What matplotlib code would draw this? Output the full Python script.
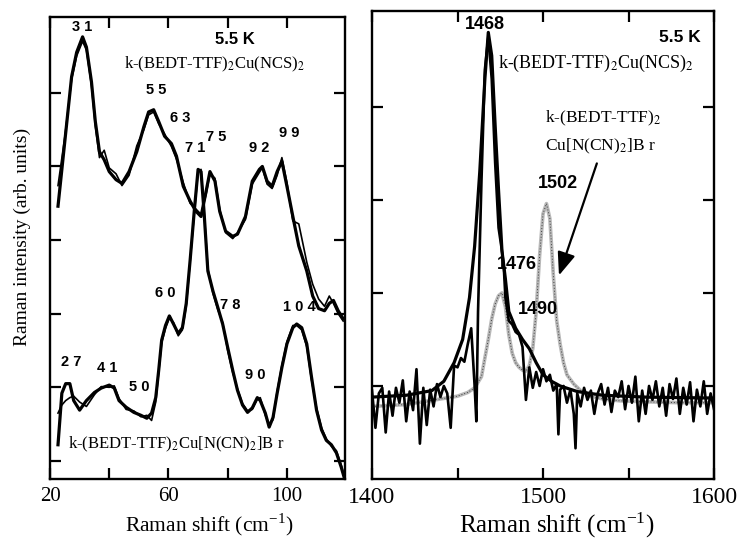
import matplotlib
matplotlib.use("Agg")
import matplotlib.pyplot as plt

plt.rcParams["mathtext.fontset"] = "stix"
SERIF = "Liberation Serif"
SANS = "Liberation Sans"

# ---------------- low-frequency spectra (left panel) ----------------
ncs_low_shift = [22.7, 25, 27.3, 29, 31, 32.3, 34, 35.3, 36.7, 38.3, 40, 42.3, 44.3,
                 46.7, 49.3, 51.7, 53.3, 55, 56.7, 58.7, 61, 62.7, 65, 67.3, 69.3, 71,
                 72.7, 74, 75.7, 77.3, 79.3, 81.7, 83.3, 86, 88.3, 90.7, 91.7, 93.3, 95,
                 96.7, 98.3, 100, 102, 104, 106.7, 108.7, 110.7, 112.7, 114.3, 115.7,
                 117.3, 119]
ncs_low_scan_a = [3.46, 4.34, 5.22, 5.55, 5.76, 5.62, 5.15, 4.61, 4.20, 4.09, 3.93, 3.82,
                  3.77, 3.93, 4.20, 4.54, 4.74, 4.77, 4.61, 4.41, 4.31, 4.14, 3.73, 3.53,
                  3.39, 3.32, 3.66, 3.93, 3.80, 3.39, 3.12, 3.05, 3.08, 3.32, 3.80, 3.96,
                  4.00, 3.80, 3.73, 3.93, 4.07, 3.73, 3.32, 2.92, 2.58, 2.24, 2.07, 2.04,
                  2.14, 2.18, 2.04, 1.93]
ncs_low_scan_b = [3.74, 4.40, 5.18, 5.50, 5.70, 5.58, 5.10, 4.55, 4.12, 4.22, 3.98, 3.90,
                  3.74, 3.88, 4.28, 4.50, 4.70, 4.74, 4.58, 4.44, 4.27, 4.10, 3.78, 3.50,
                  3.42, 3.35, 3.62, 3.90, 3.84, 3.42, 3.10, 3.02, 3.10, 3.28, 3.76, 3.92,
                  3.98, 3.76, 3.70, 3.88, 4.12, 3.78, 3.26, 3.22, 2.70, 2.40, 2.20, 2.10,
                  2.24, 2.14, 2.00, 1.90]

br_low_shift = [22.7, 24, 25.3, 26.7, 28, 30, 32.3, 35, 37.3, 40, 41.7, 43.3, 45.7, 48.3,
                50.7, 52.7, 54.3, 55.7, 56.7, 57.7, 59, 60.3, 61.7, 63.3, 64.7, 66, 67.3,
                68.7, 70, 71, 72, 73.3, 75, 76.7, 78.3, 80, 81.7, 83.3, 85, 86.7, 88.3,
                90, 91, 92.7, 94, 95.3, 96.7, 98.3, 100, 102, 103.3, 105, 106.7, 108.3,
                110, 111.7, 113.3, 115, 116.7, 118.3, 119.3]
br_low_scan_a = [0.22, 0.92, 1.05, 1.05, 0.82, 0.69, 0.82, 0.93, 0.99, 1.03, 0.99, 0.82,
                 0.73, 0.66, 0.62, 0.58, 0.65, 0.86, 1.23, 1.64, 1.84, 1.97, 1.86, 1.73,
                 1.81, 2.14, 2.72, 3.39, 3.96, 3.93, 3.39, 2.58, 2.31, 2.08, 1.86, 1.54,
                 1.23, 0.96, 0.76, 0.66, 0.72, 0.86, 0.82, 0.65, 0.46, 0.59, 0.92, 1.27,
                 1.59, 1.81, 1.86, 1.81, 1.59, 1.14, 0.69, 0.42, 0.28, 0.22, 0.11, -0.08,
                 -0.22]
br_low_scan_b = [0.65, 0.76, 0.82, 0.86, 0.88, 0.80, 0.74, 0.90, 1.01, 1.00, 1.02, 0.85,
                 0.70, 0.68, 0.60, 0.62, 0.55, 0.80, 1.20, 1.60, 1.80, 1.94, 1.88, 1.70,
                 1.78, 2.10, 2.70, 3.35, 3.92, 3.96, 3.42, 2.62, 2.28, 2.05, 1.88, 1.50,
                 1.20, 0.98, 0.78, 0.68, 0.70, 0.84, 0.86, 0.62, 0.50, 0.56, 0.95, 1.30,
                 1.62, 1.84, 1.84, 1.78, 1.55, 1.10, 0.72, 0.45, 0.30, 0.20, 0.14, -0.05,
                 -0.20]

low_peaks = [("3 1", 31, 5.9), ("5 5", 55.7, 5.04), ("6 3", 64, 4.66), ("7 1", 69, 4.25),
             ("7 5", 76, 4.40), ("9 2", 90.7, 4.25), ("9 9", 100.7, 4.46),
             ("6 0", 59, 2.28), ("7 8", 80.7, 2.12), ("1 0 4", 104.3, 2.09),
             ("2 7", 27.3, 1.35), ("4 1", 39.3, 1.26), ("5 0", 50, 1.0), ("9 0", 89.3, 1.17)]

# ---------------- C=C stretching region (right panel) ----------------
ncs_fit_shift = [1400, 1420, 1435, 1442, 1448, 1453, 1457, 1460, 1463, 1466, 1468, 1470,
                 1472, 1474, 1476, 1478, 1480, 1484, 1488, 1492, 1496, 1500, 1505, 1510,
                 1520, 1535, 1560, 1600]
ncs_fit = [0.88, 0.90, 0.95, 1.05, 1.25, 1.50, 1.95, 2.50, 3.30, 4.30, 4.80, 4.55, 3.80,
           3.10, 2.45, 2.15, 1.80, 1.62, 1.50, 1.40, 1.25, 1.12, 1.05, 1.00, 0.94, 0.90,
           0.88, 0.87]

ncs_data_shift = [1400, 1402, 1404, 1406, 1408, 1410, 1412, 1414, 1416, 1418, 1420, 1422,
                  1424, 1426, 1428, 1430, 1432, 1434, 1436, 1438, 1440, 1442, 1444, 1446,
                  1448, 1450, 1452, 1454, 1456, 1458, 1460, 1461, 1462, 1464, 1466, 1468,
                  1470, 1472, 1474, 1476, 1477, 1478, 1480, 1482, 1484, 1486, 1488, 1490,
                  1492, 1494, 1496, 1498, 1500, 1502, 1504, 1506, 1508, 1509, 1510, 1512,
                  1514, 1516, 1518, 1519, 1520, 1522, 1524, 1526, 1528, 1530, 1532, 1534,
                  1536, 1538, 1540, 1542, 1544, 1546, 1548, 1550, 1552, 1554, 1556, 1558,
                  1560, 1562, 1564, 1566, 1568, 1570, 1572, 1574, 1576, 1578, 1580, 1582,
                  1584, 1586, 1588, 1590, 1592, 1594, 1596, 1598, 1600]
ncs_data = [0.95, 0.55, 0.92, 0.98, 0.50, 0.94, 0.68, 0.98, 0.82, 1.06, 0.62, 0.94, 0.74,
            1.18, 0.38, 0.98, 0.58, 0.96, 0.78, 1.02, 0.88, 1.00, 0.92, 0.55, 1.22, 1.20,
            1.30, 1.26, 1.45, 1.62, 1.00, 0.62, 1.80, 3.20, 4.40, 4.75, 4.30, 3.40, 2.70,
            2.45, 2.30, 1.95, 1.70, 1.66, 1.58, 1.55, 1.42, 0.85, 1.20, 0.98, 1.15, 1.00,
            1.18, 1.05, 1.12, 0.95, 1.02, 0.48, 0.96, 1.00, 0.82, 0.96, 0.70, 0.33, 0.92,
            0.78, 0.98, 0.85, 0.95, 0.70, 0.92, 1.02, 0.80, 0.98, 0.72, 0.95, 0.88, 1.05,
            0.75, 1.00, 0.82, 1.10, 0.62, 0.95, 0.70, 1.00, 0.85, 1.05, 0.78, 0.98, 0.68,
            1.02, 0.86, 1.08, 0.70, 0.98, 0.80, 1.04, 0.62, 0.96, 0.78, 1.05, 0.70, 0.92,
            0.75]

br_high_shift = [1400, 1410, 1420, 1430, 1440, 1450, 1456, 1460, 1464, 1466, 1468, 1470,
                 1472, 1474, 1476, 1478, 1480, 1482, 1484, 1486, 1488, 1490, 1492, 1494,
                 1496, 1498, 1500, 1502, 1504, 1506, 1508, 1510, 1512, 1514, 1518, 1522,
                 1528, 1535, 1545, 1560, 1580, 1600]
br_high = [0.78, 0.79, 0.80, 0.83, 0.86, 0.89, 0.93, 0.98, 1.10, 1.30, 1.50, 1.72, 1.88,
           1.97, 2.00, 1.85, 1.55, 1.35, 1.25, 1.20, 1.17, 1.16, 1.22, 1.40, 1.80, 2.40,
           2.85, 2.96, 2.80, 2.20, 1.70, 1.45, 1.25, 1.12, 1.02, 0.95, 0.89, 0.86, 0.84,
           0.83, 0.82, 0.82]

high_peaks = [("1468", 1466, 4.88), ("1502", 1508.8, 3.18), ("1476", 1484.8, 2.30),
              ("1490", 1497, 1.82)]

# ---------------- figure ----------------
fig = plt.figure(figsize=(7.43, 5.44), dpi=100)
ax1 = fig.add_axes([0.0673, 0.1195, 0.3970, 0.8493])
ax2 = fig.add_axes([0.5007, 0.1195, 0.4603, 0.8603])

for ax in (ax1, ax2):
    for s in ax.spines.values():
        s.set_linewidth(1.7)
    ax.tick_params(which="both", direction="in", top=True, right=True,
                   length=8, width=1.6, pad=6)
    ax.tick_params(axis="y", labelleft=False)

# left panel: two scans per compound
ax1.plot(ncs_low_shift, ncs_low_scan_b, color="black", lw=1.2)
ax1.plot(ncs_low_shift, ncs_low_scan_a, color="black", lw=2.3)
ax1.plot(br_low_shift, br_low_scan_b, color="black", lw=1.2)
ax1.plot(br_low_shift, br_low_scan_a, color="black", lw=2.3)
ax1.set_xlim(20, 119.6)
ax1.set_ylim(-0.245, 6.03)
ax1.set_xticks([20, 40, 60, 80, 100])
ax1.set_xticklabels(["20", "", "60", "", "100"], fontfamily=SERIF, fontsize=15)
ax1.set_yticks([0, 1, 2, 3, 4, 5])
for lab, x, y in low_peaks:
    ax1.text(x, y, lab, fontfamily=SANS, fontsize=10.5, fontweight="bold",
             ha="center", va="center")
ax1.text(82.3, 5.72, "5.5 K", fontfamily=SANS, fontsize=12, fontweight="bold",
         ha="center", va="center")
ax1.text(45, 5.38, r"k-(BEDT-TTF)$_2$Cu(NCS)$_2$", fontfamily=SERIF, fontsize=12,
         ha="left", va="center")
ax1.text(26, 0.22, r"k-(BEDT-TTF)$_2$Cu[N(CN)$_2$]B r", fontfamily=SERIF, fontsize=12,
         ha="left", va="center")

# right panel
ax2.plot(br_high_shift, br_high, color="0.72", lw=2.6)
ax2.plot(br_high_shift, br_high, color="0.25", lw=0.7, ls=(0, (1, 2)))
ax2.plot(ncs_data_shift, ncs_data, color="black", lw=1.9)
ax2.plot(ncs_fit_shift, ncs_fit, color="black", lw=2.3)
ax2.set_xlim(1400, 1600)
ax2.set_ylim(0, 5.03)
ax2.set_xticks([1400, 1450, 1500, 1550, 1600])
ax2.set_xticklabels(["1400", "", "1500", "", "1600"], fontfamily=SERIF, fontsize=17)
ax2.set_yticks([1, 2, 3, 4])
for lab, x, y in high_peaks:
    ax2.text(x, y, lab, fontfamily=SANS, fontsize=13, fontweight="bold",
             ha="center", va="center")
ax2.text(1580, 4.74, "5.5 K", fontfamily=SANS, fontsize=12.5, fontweight="bold",
         ha="center", va="center")
ax2.text(1473.7, 4.47, r"k-(BEDT-TTF)$_2$Cu(NCS)$_2$", fontfamily=SERIF, fontsize=13,
         ha="left", va="center")
ax2.text(1501, 3.88, r"k-(BEDT-TTF)$_2$", fontfamily=SERIF, fontsize=12.5,
         ha="left", va="center")
ax2.text(1501, 3.57, r"Cu[N(CN)$_2$]B r", fontfamily=SERIF, fontsize=12.5,
         ha="left", va="center")
ax2.annotate("", xy=(1508.8, 2.16), xytext=(1532, 3.42),
             arrowprops=dict(arrowstyle="-|>,head_length=1.4,head_width=0.55",
                             color="black", lw=1.6))

# axis titles
ax1.set_xlabel(r"Raman shift (cm$^{\mathregular{-1}}$)", fontfamily=SERIF, fontsize=15.5)
ax1.xaxis.set_label_coords(0.54, -0.07)
ax2.set_xlabel(r"Raman shift (cm$^{\mathregular{-1}}$)", fontfamily=SERIF, fontsize=18)
ax2.xaxis.set_label_coords(0.54, -0.068)
fig.text(0.03, 0.564, "Raman intensity (arb. units)", fontfamily=SERIF, fontsize=14,
         rotation=90, ha="center", va="center")

fig.savefig("out.png", dpi=100)
